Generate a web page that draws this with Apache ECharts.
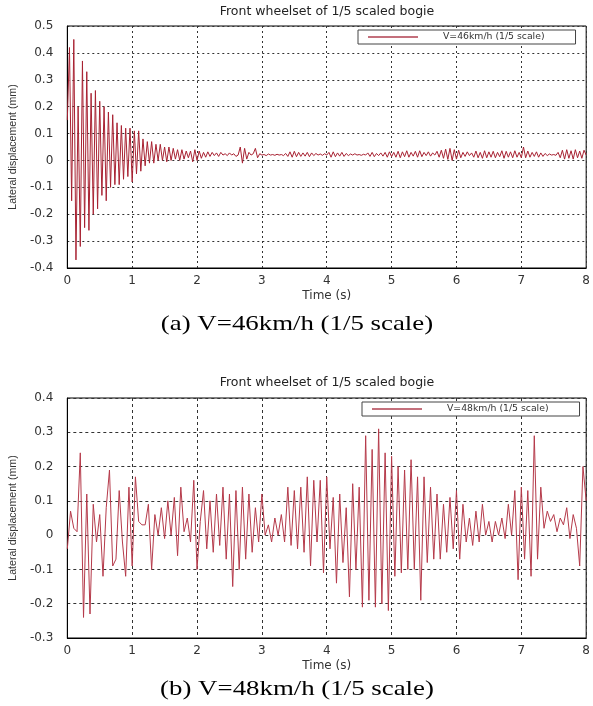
<!DOCTYPE html>
<html><head><meta charset="utf-8">
<script src="https://cdn.jsdelivr.net/npm/echarts@6/dist/echarts.min.js"></script>
<style>html,body{margin:0;padding:0;background:#fff}#c{width:593px;height:706px}</style>
</head><body><div id="c"></div>
<script>
const chartTitle = 'Front wheelset of 1/5 scaled bogie';
const xName = 'Time (s)';
const yName = 'Lateral displacement (mm)';
const seriesNameA = 'V=46km/h (1/5 scale)';
const seriesNameB = 'V=48km/h (1/5 scale)';
const captionA = '(a) V=46km/h (1/5 scale)';
const captionB = '(b) V=48km/h (1/5 scale)';
const xTicks = [0, 1, 2, 3, 4, 5, 6, 7, 8];
const yTicksA = [-0.4, -0.3, -0.2, -0.1, 0, 0.1, 0.2, 0.3, 0.4, 0.5];
const yTicksB = [-0.3, -0.2, -0.1, 0, 0.1, 0.2, 0.3, 0.4];
const sampleStepA = 1 / 30; // seconds between samples, chart (a)
const sampleStepB = 0.05;   // seconds between samples, chart (b)

const valuesA = [
  0.15, 0.42, -0.15, 0.45, -0.37, 0.2, -0.32, 0.37, -0.25, 0.33,
  -0.26, 0.25, -0.2, 0.26, -0.18, 0.22, -0.13, 0.2, -0.15, 0.18,
  -0.1, 0.17, -0.09, 0.14, -0.09, 0.13, -0.07, 0.12, -0.06, 0.12,
  -0.08, 0.11, -0.05, 0.11, -0.04, 0.08, -0.02, 0.07, -0.01, 0.07,
  -0.01, 0.06, 0.0, 0.06, 0.0, 0.05, -0.005, 0.05, 0.0, 0.045,
  0.005, 0.04, 0.0, 0.04, 0.005, 0.035, 0.01, 0.035, -0.005, 0.04,
  0.0, 0.035, 0.008, 0.03, 0.012, 0.032, 0.015, 0.03, 0.018, 0.028,
  0.015, 0.03, 0.02, 0.025, 0.018, 0.028, 0.02, 0.025, 0.015, 0.02,
  0.05, -0.01, 0.045, 0.005, 0.03, 0.02, 0.025, 0.045, 0.01, 0.025,
  0.02, 0.022, 0.018, 0.024, 0.02, 0.022, 0.019, 0.023, 0.02, 0.022,
  0.018, 0.026, 0.015, 0.032, 0.012, 0.034, 0.014, 0.03, 0.015, 0.028,
  0.016, 0.03, 0.014, 0.028, 0.018, 0.026, 0.02, 0.024, 0.019, 0.025,
  0.02, 0.03, 0.012, 0.032, 0.014, 0.028, 0.016, 0.03, 0.015, 0.026,
  0.018, 0.024, 0.02, 0.025, 0.02, 0.022, 0.019, 0.023, 0.02, 0.028,
  0.015, 0.03, 0.014, 0.026, 0.018, 0.028, 0.016, 0.03, 0.012, 0.032,
  0.014, 0.03, 0.012, 0.034, 0.01, 0.032, 0.014, 0.036, 0.012, 0.03,
  0.016, 0.034, 0.012, 0.036, 0.014, 0.03, 0.018, 0.032, 0.016, 0.028,
  0.02, 0.034, 0.012, 0.038, 0.008, 0.042, 0.004, 0.045, 0.0, 0.04,
  0.005, 0.038, 0.01, 0.03, 0.015, 0.032, 0.018, 0.028, 0.012, 0.035,
  0.01, 0.03, 0.008, 0.036, 0.01, 0.032, 0.012, 0.034, 0.01, 0.03,
  0.014, 0.036, 0.008, 0.034, 0.012, 0.032, 0.01, 0.036, 0.012, 0.03,
  0.01, 0.05, 0.01, 0.035, 0.012, 0.03, 0.015, 0.032, 0.012, 0.028,
  0.015, 0.026, 0.018, 0.024, 0.02, 0.022, 0.019, 0.03, 0.01, 0.038,
  0.005, 0.04, 0.008, 0.036, 0.005, 0.04, 0.01, 0.035, 0.008, 0.038,
  0.02
];

const valuesB = [
  -0.04, 0.07, 0.02, 0.01, 0.24, -0.24, 0.12, -0.23, 0.09, -0.02,
  0.06, -0.12, 0.08, 0.19, -0.09, -0.07, 0.13, -0.02, -0.12, 0.14,
  -0.09, 0.17, 0.04, 0.03, 0.03, 0.09, -0.1, 0.06, 0.0, 0.08,
  -0.01, 0.1, 0.0, 0.11, -0.06, 0.14, 0.01, 0.05, -0.02, 0.16,
  -0.1, 0.04, 0.13, -0.04, 0.1, -0.05, 0.12, -0.03, 0.14, -0.07,
  0.12, -0.15, 0.13, -0.1, 0.14, -0.07, 0.12, -0.05, 0.08, -0.02,
  0.12, 0.0, 0.03, -0.02, 0.05, 0.0, 0.06, -0.02, 0.14, -0.03,
  0.13, -0.04, 0.14, -0.05, 0.17, -0.09, 0.16, -0.02, 0.16, -0.11,
  0.17, -0.04, 0.11, -0.14, 0.12, -0.08, 0.08, -0.18, 0.15, -0.1,
  0.14, -0.21, 0.29, -0.19, 0.25, -0.21, 0.31, -0.2, 0.24, -0.22,
  0.23, -0.12, 0.2, -0.11, 0.19, -0.1, 0.22, -0.1, 0.17, -0.19,
  0.17, -0.08, 0.14, -0.07, 0.12, -0.07, 0.09, -0.05, 0.11, -0.04,
  0.13, -0.07, 0.09, -0.02, 0.05, -0.03, 0.07, -0.02, 0.09, 0.0,
  0.04, -0.02, 0.04, 0.0, 0.05, -0.01, 0.09, 0.0, 0.13, -0.13,
  0.14, -0.07, 0.13, -0.12, 0.29, -0.07, 0.14, 0.02, 0.07, 0.04,
  0.06, 0.01, 0.05, 0.03, 0.08, -0.01, 0.06, 0.02, -0.09, 0.2,
  0.1
];

const SANS = '"DejaVu Sans", sans-serif';
const lineColorA = '#a82232';
const lineColorB = '#b53a4a';

function axisPair(gridIndex, yTicks, gridType) {
  const x = {
    type: 'value', gridIndex,
    min: xTicks[0], max: xTicks[xTicks.length - 1], interval: 1,
    name: xName, nameLocation: 'middle', nameGap: 22,
    nameTextStyle: { fontFamily: SANS, fontSize: 12, color: '#333' },
    axisLine: { show: true, onZero: false, lineStyle: { color: '#000', width: 1 } },
    axisTick: { show: false },
    axisLabel: { fontFamily: SANS, fontSize: 12, color: '#333', margin: 7 },
    splitLine: { show: true, lineStyle: { color: '#333', width: 1, type: gridType } }
  };
  const y = {
    type: 'value', gridIndex,
    min: yTicks[0], max: yTicks[yTicks.length - 1], interval: 0.1,
    name: yName, nameLocation: 'middle', nameGap: 48, nameRotate: 90,
    nameTextStyle: { fontFamily: '"Liberation Sans", Arial, sans-serif', fontSize: 10.6, color: '#333' },
    axisLine: { show: true, lineStyle: { color: '#000', width: 1 } },
    axisTick: { show: false },
    axisLabel: { fontFamily: SANS, fontSize: 12, color: '#333', margin: 14,
      formatter: v => String(+v.toFixed(1)) },
    splitLine: { show: true, lineStyle: { color: '#333', width: 1, type: gridType } }
  };
  return [x, y];
}

const [xa, ya] = axisPair(0, yTicksA, [2, 3]);
const [xb, yb] = axisPair(1, yTicksB, [3, 3]);

const legendBase = {
  orient: 'horizontal', icon: 'rect', itemWidth: 50, itemHeight: 2,
  itemStyle: { color: '#c4707c', borderWidth: 0 },
  borderColor: '#444', borderWidth: 1, backgroundColor: '#fff',
  textStyle: { fontFamily: SANS, fontSize: 9.3, color: '#333', padding: [0, 0, 0, 20] },
  selectedMode: false
};

const chart = echarts.init(document.getElementById('c'), null, { renderer: 'canvas' });
chart.setOption({
  animation: false,
  backgroundColor: '#fff',
  grid: [
    { left: 64, top: 26, width: 523, height: 242, show: true, borderColor: '#000', borderWidth: 1, backgroundColor: 'transparent' },
    { left: 64, top: 398, width: 529, height: 240, show: true, borderColor: '#000', borderWidth: 1, backgroundColor: 'transparent' }
  ],
  xAxis: [xa, xb],
  yAxis: [ya, yb],
  legend: [
    Object.assign({}, legendBase, { data: [seriesNameA], left: 358, top: 30, padding: [2.5, 31, 2.5, 10] }),
    Object.assign({}, legendBase, { data: [seriesNameB], left: 362, top: 402, padding: [2.5, 31, 2.5, 10] })
  ],
  graphic: [
    { type: 'text', x: 327, y: 12, style: { text: chartTitle, fontFamily: SANS, fontSize: 12.5, fill: '#222', align: 'center', verticalAlign: 'middle', textAlign: 'center', textVerticalAlign: 'middle' } },
    { type: 'text', x: 327, y: 383, style: { text: chartTitle, fontFamily: SANS, fontSize: 12.5, fill: '#222', align: 'center', verticalAlign: 'middle', textAlign: 'center', textVerticalAlign: 'middle' } },
    { type: 'text', x: 297, y: 324, scaleX: 1.22, style: { text: captionA, fontFamily: '"Liberation Serif", "Times New Roman", serif', fontSize: 22, fill: '#000', align: 'center', verticalAlign: 'middle', textAlign: 'center', textVerticalAlign: 'middle' } },
    { type: 'text', x: 297, y: 689, scaleX: 1.22, style: { text: captionB, fontFamily: '"Liberation Serif", "Times New Roman", serif', fontSize: 22, fill: '#000', align: 'center', verticalAlign: 'middle', textAlign: 'center', textVerticalAlign: 'middle' } }
  ],
  series: [
    { name: seriesNameA, type: 'line', xAxisIndex: 0, yAxisIndex: 0, symbol: 'none',
      lineStyle: { color: lineColorA, width: 1 }, itemStyle: { color: lineColorA },
      data: valuesA.map((v, i) => [i * sampleStepA, v]) },
    { name: seriesNameB, type: 'line', xAxisIndex: 1, yAxisIndex: 1, symbol: 'none',
      lineStyle: { color: lineColorB, width: 1 }, itemStyle: { color: lineColorB },
      data: valuesB.map((v, i) => [i * sampleStepB, v]) }
  ]
});
</script>
</body></html>
